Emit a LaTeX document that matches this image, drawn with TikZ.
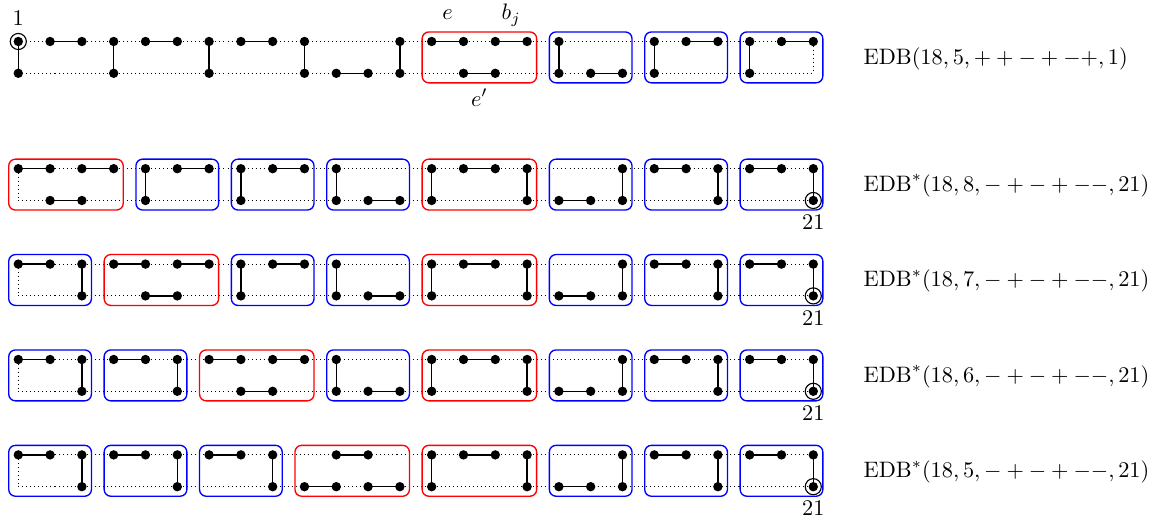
\documentclass[tikz,border=0pt]{standalone}
\usetikzlibrary{fit,calc}
\newcommand\ladderrow[8]{%
  \foreach \c in {0,...,25}{\coordinate (#1t\c) at (\c,#2); \coordinate (#1b\c) at (\c,#2-1);}
  \draw[dotline] (#1t0) -- (#1t25);
  \draw[dotline] (#1b0) -- (#1b25);
  \draw[dotline] (#1t#6) -- (#1b#6);
  \foreach \a/\b in {#3}{\draw[edge] (#1t\a) -- (#1t\b);}
  \foreach \a/\b in {#4}{\draw[edge] (#1b\a) -- (#1b\b);}
  \foreach \a in {#5}{\draw[edge] (#1t\a) -- (#1b\a);}
  \foreach \a/\b in {#3}{\node[vtx] (#1vt\a) at (#1t\a) {}; \node[vtx] (#1vt\b) at (#1t\b) {};}
  \foreach \a/\b in {#4}{\node[vtx] (#1vb\a) at (#1b\a) {}; \node[vtx] (#1vb\b) at (#1b\b) {};}
  \foreach \a in {#5}{\node[vtx] (#1vt\a) at (#1t\a) {}; \node[vtx] (#1vb\a) at (#1b\a) {};}
  \foreach \a/\b in {#7}{\node[rbox, fit=(#1t\a)(#1b\b)] (#1red\a) {};}
  \foreach \a/\b in {#8}{\node[bbox, fit=(#1t\a)(#1b\b)] (#1blue\a) {};}
}
\begin{document}
\begin{tikzpicture}[x=0.5cm,y=0.5cm,
  dotline/.style={line width=0.45pt, dash pattern=on 0.45pt off 1.35pt},
  edge/.style={line width=0.7pt},
  vtx/.style={circle, fill=black, inner sep=0pt, minimum size=4.2pt},
  ring/.style={circle, draw=black, line width=0.5pt, inner sep=0pt, minimum size=7.2pt},
  bbox/.style={draw=blue, line width=0.6pt, rounded corners=3pt, inner sep=4.27pt},
  rbox/.style={draw=red, line width=0.6pt, rounded corners=3pt, inner sep=4.27pt},
  lab/.style={anchor=base, inner sep=0pt},
  captxt/.style={anchor=base west, inner sep=0pt}]
\useasboundingbox (-0.575,-15.05) rectangle (35.62,1.305);

\ladderrow{A}{0}{1/2,4/5,7/8,13/14,15/16,21/22,24/25}{10/11,14/15,18/19}{0,3,6,9,12,17,20,23}{25}{13/16}{17/19,20/22,23/25}
\ladderrow{B}{-4}{0/1,2/3,5/6,8/9,14/15,20/21,23/24}{1/2,11/12,17/18}{4,7,10,13,16,19,22,25}{0}{0/3,13/16}{4/6,7/9,10/12,17/19,20/22,23/25}
\ladderrow{C}{-7}{0/1,3/4,5/6,8/9,14/15,20/21,23/24}{4/5,11/12,17/18}{2,7,10,13,16,19,22,25}{0}{3/6,13/16}{0/2,7/9,10/12,17/19,20/22,23/25}
\ladderrow{D}{-10}{0/1,3/4,6/7,8/9,14/15,20/21,23/24}{7/8,11/12,17/18}{2,5,10,13,16,19,22,25}{0}{6/9,13/16}{0/2,3/5,10/12,17/19,20/22,23/25}
\ladderrow{E}{-13}{0/1,3/4,6/7,10/11,14/15,20/21,23/24}{9/10,11/12,17/18}{2,5,8,13,16,19,22,25}{0}{9/12,13/16}{0/2,3/5,6/8,17/19,20/22,23/25}

% start and end markers
\node[ring] (ringA) at (At0) {};
\node[lab] (labA) at ($(At0)+(0,0.49)$) {$1$};
\foreach \r in {B,C,D,E}{
  \node[ring] (ring\r) at (\r b25) {};
  \node[lab] (lab\r) at ($(\r b25)+(0,-0.92)$) {$21$};
}

% edge labels
\node[lab] (lbe) at ($(At13)!0.5!(At14)+(0,0.68)$) {$e$};
\node[lab] (lbb) at ($(At15)!0.5!(At16)+(0,0.68)$) {$b_j$};
\node[lab] (lbep) at ($(Ab14)!0.5!(Ab15)+(0,-1.03)$) {$e'$};

% captions
\node[captxt] (capA) at (26.57,-0.72) {$\mathrm{EDB}(18,5,++-+-+,1)$};
\node[captxt] (capB) at (26.57,-4.72) {$\mathrm{EDB}^*(18,8,-+-+--,21)$};
\node[captxt] (capC) at (26.57,-7.72) {$\mathrm{EDB}^*(18,7,-+-+--,21)$};
\node[captxt] (capD) at (26.57,-10.72) {$\mathrm{EDB}^*(18,6,-+-+--,21)$};
\node[captxt] (capE) at (26.57,-13.72) {$\mathrm{EDB}^*(18,5,-+-+--,21)$};
\end{tikzpicture}
\end{document}
